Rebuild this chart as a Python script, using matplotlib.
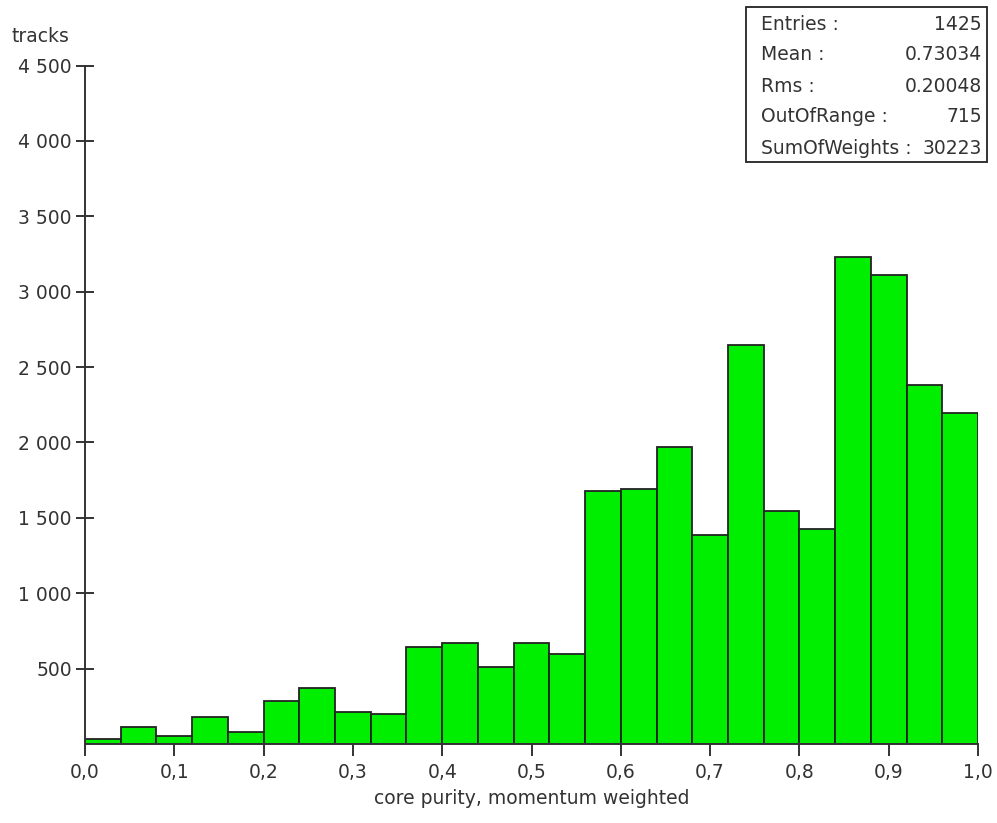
import numpy as np
import matplotlib
matplotlib.use("Agg")
import matplotlib.pyplot as plt
from matplotlib.ticker import FuncFormatter, MultipleLocator
from matplotlib.patches import Rectangle

# histogram contents, 25 bins of width 0.04 over [0, 1]
bin_width = 0.04
bin_lo = [round(i * bin_width, 2) for i in range(25)]
counts = [32, 111, 56, 180, 82, 284, 374, 215, 202, 642,
          668, 509, 668, 600, 1678, 1690, 1970, 1385, 2645, 1546,
          1426, 3232, 3113, 2381, 2193]

stat_names = ["Entries :", "Mean :", "Rms :", "OutOfRange :", "SumOfWeights :"]
stat_values = ["1425", "0.73034", "0.20048", "715", "30223"]

text_col = "#333333"
fs = 13.5
plt.rcParams['font.family'] = ['DejaVu Sans']

fig = plt.figure(figsize=(9.97, 8.23), dpi=100)
ax = fig.add_axes([85/997, 1 - 744/823, (978 - 85)/997, (744 - 65.6)/823])

ax.bar(bin_lo, counts, width=bin_width, align='edge',
       color='#00ee00', edgecolor='#222222', linewidth=1.3)

ax.set_xlim(0, 1)
ax.set_ylim(0, 4500)
ax.spines['top'].set_visible(False)
ax.spines['right'].set_visible(False)
for s in ['left', 'bottom']:
    ax.spines[s].set_color(text_col)
    ax.spines[s].set_linewidth(1.4)

ax.xaxis.set_major_locator(MultipleLocator(0.1))
ax.set_yticks([500, 1000, 1500, 2000, 2500, 3000, 3500, 4000, 4500])
ax.xaxis.set_major_formatter(FuncFormatter(lambda v, p: f"{v:.1f}".replace(".", ",")))
ax.yaxis.set_major_formatter(FuncFormatter(lambda v, p: f"{int(v):,}".replace(",", " ")))
ax.tick_params(axis='y', direction='inout', length=13, width=1.4, color=text_col,
               labelsize=fs, labelcolor=text_col, pad=3)
ax.tick_params(axis='x', direction='out', length=8.5, width=1.4, color=text_col,
               labelsize=fs, labelcolor=text_col, pad=5)

ax.set_xlabel("core purity, momentum weighted", fontsize=fs, color=text_col, labelpad=5)
fig.text(12/997, 1 - 37/823, "tracks", fontsize=fs, color=text_col, va='center', ha='left')

# statistics box
fig.patches.append(Rectangle((746/997, 1 - 162/823), (987 - 746)/997, (162 - 7)/823,
                             transform=fig.transFigure, fill=False,
                             edgecolor='#222222', linewidth=1.3))
for i, (n, v) in enumerate(zip(stat_names, stat_values)):
    y = 1 - (24 + 31 * i)/823
    fig.text(761/997, y, n, fontsize=fs, color=text_col, va='center', ha='left')
    fig.text(982/997, y, v, fontsize=fs, color=text_col, va='center', ha='right')

fig.savefig("out.png", dpi=100)
